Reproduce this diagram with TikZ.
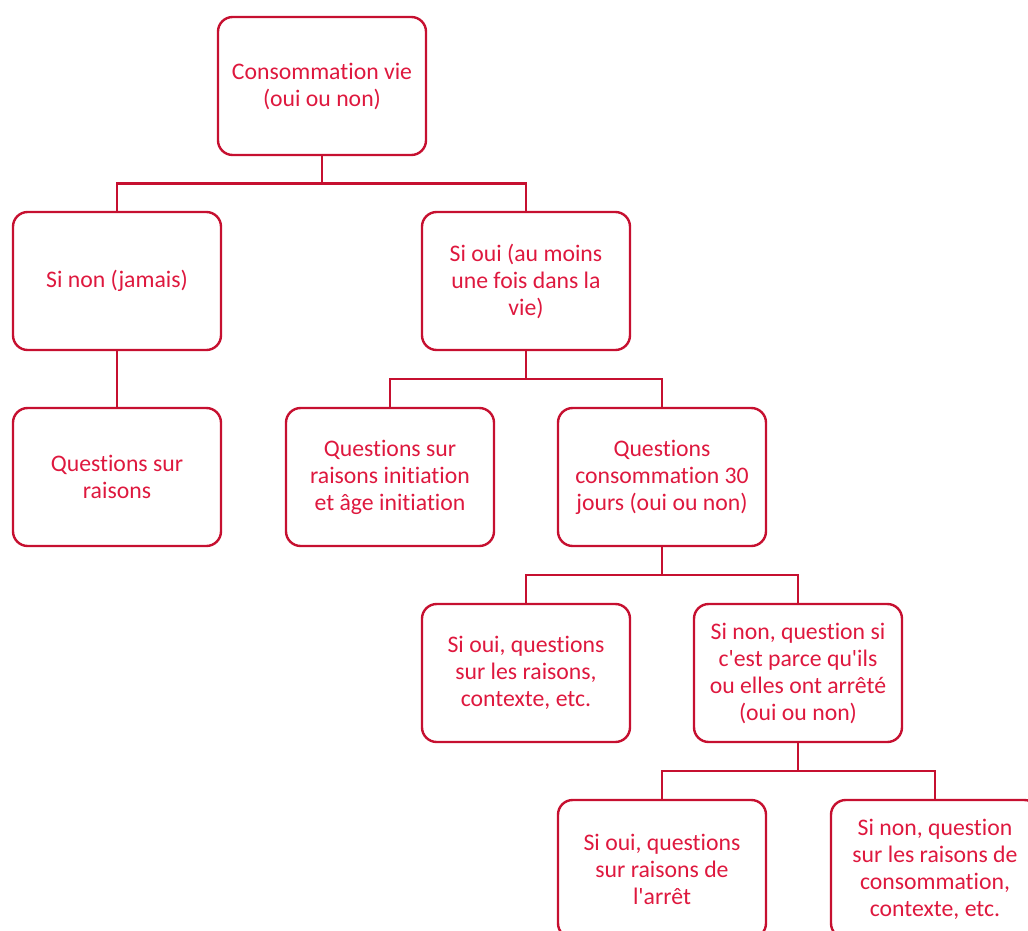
\documentclass[tikz,border=0pt]{standalone}
\usepackage{fontspec}
\setmainfont{Carlito}[Ligatures=NoCommon]
\usetikzlibrary{positioning}
\definecolor{boxred}{RGB}{198,16,48}
\definecolor{textred}{RGB}{222,24,62}

\begin{document}
\begin{tikzpicture}[node distance=147pt and 102pt,on grid,
	box/.style={draw=boxred,line width=1.8pt,rounded corners=11pt,minimum width=156pt,minimum height=103.5pt,align=center,text=textred,font=\fontsize{17.8pt}{20.25pt}\selectfont},
	link/.style={draw=boxred,line width=1.8pt}]
	\useasboundingbox (-241.5pt,64.5pt) rectangle (529.5pt,-633.75pt);
	\clip (-241.5pt,64.5pt) rectangle (529.5pt,-633.75pt);
	\node[box] (vie) {Consommation vie\\(oui ou non)};
	\node[box] (jamais) [below left=146.25pt and 153.75pt of vie] {Si non (jamais)};
	\node[box] (oui) [below right=146.25pt and 153pt of vie] {Si oui (au moins\\une fois dans la\\vie)};
	\node[box] (raisons) [below=of jamais] {Questions sur\\raisons};
	\node[box] (initiation) [below left=of oui] {Questions sur\\raisons initiation\\et âge initiation};
	\node[box] (trente) [below right=of oui] {Questions\\consommation 30\\jours (oui ou non)};
	\node[box] (contexte) [below left=of trente] {Si oui, questions\\sur les raisons,\\contexte, etc.};
	\node[box] (arret) [below right=of trente] {Si non, question si\\c\textquotesingle est parce qu\textquotesingle ils\\ou elles ont arrêté\\(oui ou non)};
	\node[box] (arretoui) [below left=of arret] {Si oui, questions\\sur raisons de\\l\textquotesingle arrêt};
	\node[box] (arretnon) [below right=147pt and 102.75pt of arret] {Si non, question\\sur les raisons de\\consommation,\\contexte, etc.};
	% connecteurs
	\draw[link] (vie.south) -- ++(0,-20.5pt) -| (jamais.north);
	\draw[link] (vie.south) -- ++(0,-20.5pt) -| (oui.north);
	\draw[link] (jamais.south) -- (raisons.north);
	\draw[link] (oui.south) -- ++(0,-21pt) -| (initiation.north);
	\draw[link] (oui.south) -- ++(0,-21pt) -| (trente.north);
	\draw[link] (trente.south) -- ++(0,-21pt) -| (contexte.north);
	\draw[link] (trente.south) -- ++(0,-21pt) -| (arret.north);
	\draw[link] (arret.south) -- ++(0,-21pt) -| (arretoui.north);
	\draw[link] (arret.south) -- ++(0,-21pt) -| (arretnon.north);
\end{tikzpicture}
\end{document}
